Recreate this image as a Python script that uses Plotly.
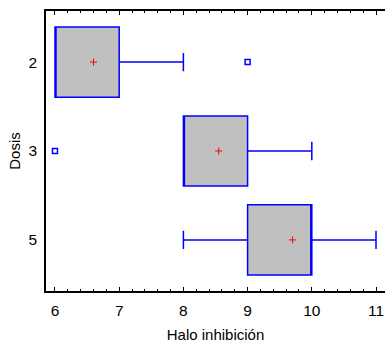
import plotly.graph_objects as go

categories = ["2", "3", "5"]
q1_vals = [6.0, 8.0, 9.0]
median_vals = [6.0, 8.0, 10.0]
q3_vals = [7.0, 9.0, 10.0]
lower_vals = [6.0, 8.0, 8.0]
upper_vals = [8.0, 10.0, 11.0]
mean_vals = [6.6, 8.55, 9.7]
outlier_x = [9.0, 6.0]
outlier_cat = ["2", "3"]
x_ticks = [6, 7, 8, 9, 10, 11]

blue = "#0000ff"
font = "Liberation Sans, Arial, sans-serif"

fig = go.Figure()
fig.add_trace(go.Box(
    y=categories, q1=q1_vals, median=median_vals, q3=q3_vals,
    lowerfence=lower_vals, upperfence=upper_vals,
    orientation="h", width=0.79, whiskerwidth=0.26,
    fillcolor="#c0c0c0", line=dict(color=blue, width=1.5),
    boxpoints=False, showlegend=False, hoverinfo="skip",
))
fig.add_trace(go.Scatter(
    x=mean_vals, y=categories, mode="markers",
    marker=dict(symbol="cross-thin", size=5, line=dict(color="#ff0000", width=1)),
    showlegend=False, hoverinfo="skip",
))
fig.add_trace(go.Scatter(
    x=outlier_x, y=outlier_cat, mode="markers",
    marker=dict(symbol="square-open", size=5, color=blue, line=dict(color=blue, width=1.5)),
    showlegend=False, hoverinfo="skip",
))

fig.update_layout(
    width=385, height=343,
    margin=dict(l=46, r=0, t=11, b=52),
    paper_bgcolor="white", plot_bgcolor="white",
    font=dict(family=font, size=15, color="#000000"),
    xaxis=dict(
        range=[5.86, 11.14], tickvals=x_ticks, ticktext=[str(t) for t in x_ticks],
        ticks="inside", ticklen=4, tickwidth=1, tickcolor="black",
        showline=True, linecolor="black", linewidth=1.5, mirror="ticks",
        showgrid=False, zeroline=False,
        minor=dict(ticks="inside", ticklen=2, dtick=0.2, tickcolor="black", showgrid=False),
        title=dict(text="Halo inhibición", font=dict(size=15), standoff=12),
        tickfont=dict(size=15.5),
        ticklabelstandoff=5,
    ),
    yaxis=dict(
        type="category", categoryorder="array", categoryarray=categories,
        range=[2.575, -0.575],
        ticks="", showline=True, linecolor="black", linewidth=1.5,
        showgrid=False, zeroline=False,
        title=dict(text="Dosis", font=dict(size=15), standoff=4),
        tickfont=dict(size=15.5),
        ticklabelstandoff=4,
    ),
)

fig.write_html("out.html")
